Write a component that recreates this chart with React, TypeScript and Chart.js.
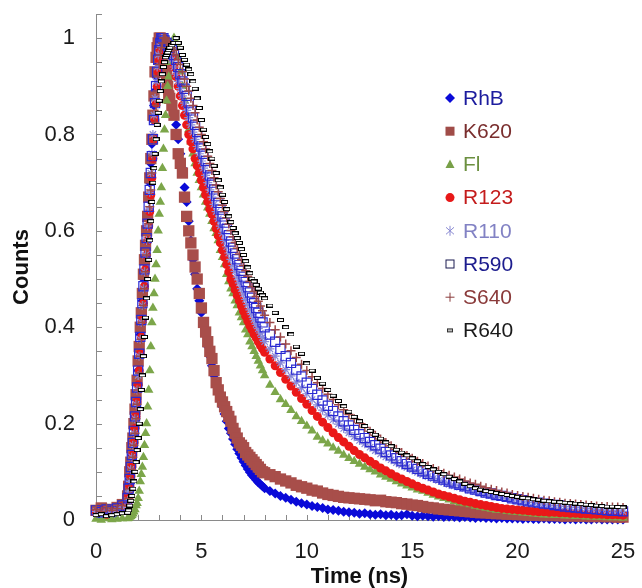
import React, { useEffect, useRef } from 'react';
import { Chart, registerables } from 'chart.js';

Chart.register(...registerables);

// ---------- data (time in ns, normalized counts) ----------
const TIME_NS = [
  0, 0.25, 0.5, 0.75, 1, 1.25,
  1.5, 1.55, 1.6, 1.65, 1.7, 1.75, 1.8, 1.85, 1.9, 1.95,
  2, 2.05, 2.1, 2.15, 2.2, 2.25, 2.3, 2.35, 2.4, 2.45,
  2.5, 2.55, 2.6, 2.65, 2.7, 2.75, 2.8, 2.85, 2.9, 2.95,
  3, 3.05, 3.1, 3.15, 3.2, 3.25, 3.3, 3.35, 3.4, 3.45,
  3.5, 3.6, 3.7, 3.8, 3.9, 4, 4.1, 4.2, 4.3, 4.4,
  4.5, 4.6, 4.7, 4.8, 4.9, 5, 5.1, 5.2, 5.3, 5.4,
  5.5, 5.6, 5.7, 5.8, 5.9, 6, 6.1, 6.2, 6.3, 6.4,
  6.5, 6.6, 6.7, 6.8, 6.9, 7, 7.1, 7.2, 7.3, 7.4,
  7.5, 7.6, 7.7, 7.8, 7.9,
  8, 8.25, 8.5, 8.75, 9, 9.25, 9.5, 9.75, 10, 10.25,
  10.5, 10.75, 11, 11.25, 11.5, 11.75, 12, 12.25, 12.5, 12.75,
  13, 13.25, 13.5, 13.75, 14, 14.25, 14.5, 14.75, 15, 15.25,
  15.5, 15.75, 16, 16.25, 16.5, 16.75, 17, 17.25, 17.5, 17.75,
  18, 18.25, 18.5, 18.75, 19, 19.25, 19.5, 19.75, 20, 20.25,
  20.5, 20.75, 21, 21.25, 21.5, 21.75, 22, 22.25, 22.5, 22.75,
  23, 23.25, 23.5, 23.75, 24, 24.25, 24.5, 24.75, 25,
];

const RHB = [
  0.012, 0.008, 0.014, 0.01, 0.016, 0.022,
  0.04, 0.06, 0.085, 0.11, 0.135, 0.16, 0.19, 0.215, 0.25, 0.28,
  0.31, 0.35, 0.385, 0.42, 0.455, 0.5, 0.535, 0.565, 0.6, 0.63,
  0.665, 0.7, 0.74, 0.78, 0.83, 0.86, 0.89, 0.92, 0.95, 0.97,
  0.99, 1, 1, 0.99, 0.97, 0.95, 0.93, 0.91, 0.9, 0.89,
  0.88, 0.86, 0.84, 0.82, 0.79, 0.76, 0.73, 0.69, 0.66, 0.62,
  0.58, 0.54, 0.51, 0.48, 0.455, 0.43, 0.405, 0.385, 0.36, 0.34,
  0.32, 0.3, 0.285, 0.265, 0.25, 0.235, 0.22, 0.205, 0.19, 0.18,
  0.168, 0.157, 0.147, 0.138, 0.129, 0.121, 0.113, 0.106, 0.099, 0.093,
  0.088, 0.083, 0.078, 0.074, 0.07,
  0.066, 0.06, 0.055, 0.05, 0.046, 0.042, 0.038, 0.035, 0.032, 0.029,
  0.027, 0.025, 0.022, 0.021, 0.019, 0.017, 0.016, 0.015, 0.013, 0.014,
  0.012, 0.011, 0.012, 0.01, 0.011, 0.009, 0.01, 0.012, 0.009, 0.008,
  0.009, 0.008, 0.007, 0.008, 0.006, 0.007, 0.006, 0.005, 0.006, 0.005,
  0.004, 0.005, 0.004, 0.004, 0.003, 0.004, 0.003, 0.003, 0.003, 0.002,
  0.003, 0.002, 0.002, 0.003, 0.002, 0.002, 0.002, 0.001, 0.002, 0.001,
  0.002, 0.001, 0.001, 0.002, 0.001, 0.001, 0.001, 0.001, 0.001,
];

const K620 = [
  0.02, 0.025, 0.018, 0.022, 0.026, 0.032,
  0.05, 0.07, 0.1, 0.12, 0.15, 0.17, 0.2, 0.23, 0.26, 0.29,
  0.33, 0.36, 0.4, 0.43, 0.47, 0.51, 0.54, 0.57, 0.6, 0.63,
  0.67, 0.71, 0.75, 0.79, 0.84, 0.88, 0.93, 0.96, 0.98, 0.99,
  1, 1, 0.99, 0.98, 0.97, 0.96, 0.94, 0.92, 0.9, 0.88,
  0.875, 0.86, 0.84, 0.8, 0.76, 0.74, 0.72, 0.67, 0.63, 0.6,
  0.575, 0.55, 0.525, 0.5, 0.47, 0.44, 0.41, 0.39, 0.37, 0.35,
  0.335, 0.31, 0.285, 0.27, 0.255, 0.245, 0.235, 0.225, 0.215, 0.205,
  0.19, 0.18, 0.17, 0.16, 0.155, 0.15, 0.14, 0.135, 0.13, 0.125,
  0.12, 0.115, 0.11, 0.105, 0.1,
  0.098, 0.094, 0.09, 0.085, 0.081, 0.077, 0.072, 0.069, 0.066, 0.062,
  0.06, 0.056, 0.053, 0.051, 0.049, 0.047, 0.046, 0.045, 0.044, 0.043,
  0.042, 0.04, 0.041, 0.038, 0.037, 0.036, 0.034, 0.033, 0.031, 0.03,
  0.028, 0.026, 0.025, 0.023, 0.022, 0.021, 0.02, 0.019, 0.018, 0.017,
  0.016, 0.015, 0.015, 0.014, 0.013, 0.013, 0.012, 0.012, 0.011, 0.011,
  0.01, 0.01, 0.01, 0.009, 0.01, 0.009, 0.009, 0.008, 0.009, 0.008,
  0.008, 0.008, 0.007, 0.008, 0.007, 0.007, 0.007, 0.006, 0.006,
];

const FL = [
  0.002, 0, 0.003, 0.001, 0.002, 0.003,
  0.003, 0.004, 0.006, 0.008, 0.01, 0.013, 0.017, 0.022, 0.03, 0.035,
  0.045, 0.06, 0.08, 0.095, 0.11, 0.13, 0.155, 0.18, 0.2, 0.235,
  0.27, 0.31, 0.36, 0.41, 0.44, 0.47, 0.5, 0.53, 0.56, 0.6,
  0.635, 0.66, 0.69, 0.73, 0.77, 0.81, 0.84, 0.87, 0.9, 0.92,
  0.95, 0.98, 1, 0.99, 0.96, 0.93, 0.9, 0.87, 0.84, 0.81,
  0.785, 0.76, 0.74, 0.72, 0.705, 0.69, 0.675, 0.66, 0.648, 0.635,
  0.62, 0.605, 0.595, 0.58, 0.56, 0.545, 0.53, 0.51, 0.495, 0.48,
  0.47, 0.455, 0.445, 0.43, 0.42, 0.41, 0.395, 0.385, 0.37, 0.36,
  0.35, 0.34, 0.33, 0.32, 0.31,
  0.3, 0.28, 0.265, 0.25, 0.24, 0.228, 0.215, 0.205, 0.195, 0.185,
  0.172, 0.165, 0.158, 0.15, 0.143, 0.135, 0.128, 0.122, 0.116, 0.11,
  0.105, 0.1, 0.094, 0.089, 0.085, 0.08, 0.075, 0.071, 0.067, 0.063,
  0.06, 0.056, 0.052, 0.048, 0.045, 0.042, 0.039, 0.036, 0.034, 0.032,
  0.029, 0.027, 0.025, 0.023, 0.021, 0.02, 0.018, 0.017, 0.016, 0.015,
  0.014, 0.013, 0.012, 0.011, 0.011, 0.01, 0.01, 0.009, 0.009, 0.008,
  0.008, 0.007, 0.007, 0.006, 0.006, 0.005, 0.005, 0.005, 0.004,
];

const R123 = [
  0.015, 0.02, 0.012, 0.018, 0.02, 0.028,
  0.035, 0.05, 0.07, 0.09, 0.11, 0.135, 0.16, 0.19, 0.215, 0.245,
  0.28, 0.31, 0.345, 0.38, 0.415, 0.45, 0.485, 0.52, 0.55, 0.58,
  0.61, 0.64, 0.675, 0.71, 0.75, 0.79, 0.83, 0.865, 0.9, 0.93,
  0.955, 0.975, 0.99, 1, 1, 0.995, 0.99, 0.985, 0.98, 0.975,
  0.97, 0.96, 0.94, 0.92, 0.9, 0.88, 0.86, 0.84, 0.82, 0.8,
  0.785, 0.77, 0.75, 0.735, 0.72, 0.705, 0.69, 0.675, 0.66, 0.645,
  0.635, 0.62, 0.605, 0.59, 0.575, 0.56, 0.545, 0.53, 0.515, 0.5,
  0.49, 0.478, 0.466, 0.455, 0.444, 0.433, 0.423, 0.413, 0.403, 0.395,
  0.386, 0.378, 0.37, 0.362, 0.355,
  0.348, 0.334, 0.32, 0.306, 0.292, 0.278, 0.265, 0.252, 0.24, 0.227,
  0.215, 0.203, 0.192, 0.181, 0.171, 0.162, 0.153, 0.144, 0.136, 0.129,
  0.122, 0.115, 0.108, 0.102, 0.096, 0.09, 0.085, 0.08, 0.075, 0.07,
  0.066, 0.062, 0.058, 0.054, 0.051, 0.048, 0.045, 0.042, 0.039, 0.037,
  0.034, 0.032, 0.03, 0.028, 0.026, 0.024, 0.023, 0.022, 0.021, 0.02,
  0.019, 0.018, 0.017, 0.017, 0.016, 0.016, 0.015, 0.015, 0.014, 0.014,
  0.013, 0.013, 0.012, 0.012, 0.012, 0.011, 0.011, 0.011, 0.01,
];

const R110 = [
  0.018, 0.014, 0.02, 0.016, 0.022, 0.026,
  0.04, 0.06, 0.08, 0.105, 0.13, 0.155, 0.18, 0.21, 0.24, 0.27,
  0.3, 0.34, 0.375, 0.41, 0.445, 0.48, 0.515, 0.55, 0.58, 0.61,
  0.645, 0.68, 0.72, 0.76, 0.8, 0.84, 0.875, 0.91, 0.94, 0.965,
  0.985, 0.995, 1, 1, 0.995, 0.99, 0.985, 0.98, 0.975, 0.97,
  0.965, 0.955, 0.94, 0.925, 0.91, 0.895, 0.88, 0.865, 0.85, 0.835,
  0.82, 0.805, 0.79, 0.775, 0.76, 0.745, 0.73, 0.715, 0.7, 0.685,
  0.67, 0.655, 0.64, 0.625, 0.61, 0.595, 0.58, 0.567, 0.554, 0.541,
  0.528, 0.516, 0.504, 0.492, 0.48, 0.469, 0.458, 0.447, 0.436, 0.426,
  0.416, 0.406, 0.397, 0.388, 0.379,
  0.37, 0.355, 0.34, 0.326, 0.312, 0.299, 0.286, 0.274, 0.262, 0.25,
  0.239, 0.228, 0.218, 0.208, 0.199, 0.19, 0.181, 0.173, 0.165, 0.158,
  0.151, 0.144, 0.137, 0.131, 0.125, 0.119, 0.114, 0.109, 0.104, 0.099,
  0.094, 0.09, 0.086, 0.082, 0.078, 0.074, 0.071, 0.068, 0.065, 0.062,
  0.059, 0.056, 0.053, 0.051, 0.049, 0.047, 0.045, 0.043, 0.041, 0.039,
  0.037, 0.036, 0.034, 0.033, 0.031, 0.03, 0.029, 0.028, 0.027, 0.026,
  0.025, 0.024, 0.023, 0.022, 0.021, 0.02, 0.02, 0.019, 0.018,
];

const R590 = [
  0.02, 0.016, 0.022, 0.018, 0.024, 0.03,
  0.045, 0.065, 0.085, 0.11, 0.135, 0.16, 0.185, 0.215, 0.245, 0.275,
  0.31, 0.345, 0.38, 0.415, 0.45, 0.485, 0.52, 0.555, 0.585, 0.615,
  0.65, 0.685, 0.72, 0.755, 0.79, 0.83, 0.865, 0.9, 0.93, 0.955,
  0.975, 0.99, 1, 1, 1, 0.995, 0.99, 0.99, 0.985, 0.985,
  0.98, 0.975, 0.965, 0.955, 0.94, 0.925, 0.91, 0.895, 0.88, 0.865,
  0.85, 0.835, 0.82, 0.805, 0.79, 0.775, 0.76, 0.745, 0.73, 0.715,
  0.7, 0.686, 0.672, 0.658, 0.644, 0.63, 0.617, 0.604, 0.591, 0.578,
  0.565, 0.553, 0.541, 0.529, 0.517, 0.505, 0.494, 0.483, 0.472, 0.461,
  0.45, 0.44, 0.43, 0.42, 0.41,
  0.4, 0.385, 0.37, 0.355, 0.34, 0.326, 0.312, 0.298, 0.285, 0.272,
  0.26, 0.248, 0.237, 0.226, 0.215, 0.205, 0.196, 0.187, 0.178, 0.17,
  0.162, 0.155, 0.148, 0.141, 0.134, 0.128, 0.122, 0.116, 0.111, 0.106,
  0.101, 0.096, 0.092, 0.088, 0.084, 0.08, 0.076, 0.073, 0.07, 0.066,
  0.063, 0.06, 0.057, 0.055, 0.052, 0.05, 0.048, 0.045, 0.043, 0.041,
  0.039, 0.037, 0.036, 0.034, 0.033, 0.031, 0.03, 0.028, 0.027, 0.026,
  0.025, 0.024, 0.023, 0.022, 0.021, 0.02, 0.019, 0.019, 0.018,
];

const S640 = [
  0.022, 0.018, 0.025, 0.02, 0.024, 0.03,
  0.03, 0.045, 0.065, 0.085, 0.105, 0.13, 0.155, 0.18, 0.21, 0.24,
  0.27, 0.305, 0.34, 0.375, 0.41, 0.445, 0.48, 0.515, 0.55, 0.58,
  0.615, 0.65, 0.685, 0.72, 0.755, 0.79, 0.825, 0.86, 0.89, 0.92,
  0.945, 0.965, 0.98, 0.99, 1, 1, 1, 0.995, 0.99, 0.99,
  0.985, 0.98, 0.975, 0.965, 0.955, 0.945, 0.93, 0.915, 0.9, 0.89,
  0.875, 0.86, 0.845, 0.83, 0.815, 0.8, 0.785, 0.77, 0.755, 0.74,
  0.725, 0.71, 0.695, 0.681, 0.667, 0.653, 0.64, 0.627, 0.614, 0.601,
  0.588, 0.576, 0.564, 0.552, 0.54, 0.528, 0.517, 0.506, 0.495, 0.484,
  0.474, 0.464, 0.454, 0.444, 0.434,
  0.425, 0.41, 0.395, 0.38, 0.365, 0.351, 0.337, 0.323, 0.31, 0.297,
  0.285, 0.273, 0.261, 0.25, 0.239, 0.229, 0.219, 0.21, 0.201, 0.192,
  0.184, 0.176, 0.168, 0.161, 0.154, 0.147, 0.14, 0.134, 0.128, 0.122,
  0.117, 0.112, 0.107, 0.102, 0.097, 0.093, 0.089, 0.085, 0.081, 0.077,
  0.074, 0.07, 0.067, 0.064, 0.061, 0.058, 0.056, 0.053, 0.051, 0.049,
  0.047, 0.045, 0.043, 0.041, 0.04, 0.038, 0.037, 0.035, 0.034, 0.033,
  0.032, 0.031, 0.03, 0.029, 0.028, 0.028, 0.027, 0.027, 0.026,
];

const R640 = [
  0.01, 0.012, 0.008, 0.01, 0.012, 0.014,
  0.015, 0.02, 0.03, 0.04, 0.05, 0.065, 0.08, 0.1, 0.12, 0.145,
  0.17, 0.2, 0.23, 0.27, 0.3, 0.34, 0.38, 0.42, 0.46, 0.5,
  0.54, 0.58, 0.62, 0.66, 0.7, 0.73, 0.76, 0.79, 0.82, 0.845,
  0.87, 0.89, 0.91, 0.925, 0.94, 0.95, 0.96, 0.965, 0.97, 0.975,
  0.98, 0.985, 0.99, 1, 0.99, 0.98, 0.965, 0.955, 0.945, 0.935,
  0.925, 0.91, 0.895, 0.875, 0.855, 0.83, 0.81, 0.795, 0.78, 0.765,
  0.75, 0.735, 0.72, 0.705, 0.69, 0.675, 0.66, 0.645, 0.63, 0.618,
  0.606, 0.595, 0.585, 0.575, 0.562, 0.55, 0.537, 0.524, 0.512, 0.501,
  0.495, 0.488, 0.48, 0.472, 0.466,
  0.46, 0.445, 0.43, 0.415, 0.4, 0.385, 0.36, 0.345, 0.325, 0.31,
  0.295, 0.283, 0.27, 0.258, 0.247, 0.236, 0.225, 0.214, 0.205, 0.195,
  0.185, 0.177, 0.169, 0.161, 0.153, 0.146, 0.14, 0.134, 0.128, 0.122,
  0.116, 0.11, 0.105, 0.1, 0.095, 0.09, 0.085, 0.08, 0.075, 0.07,
  0.066, 0.063, 0.06, 0.058, 0.056, 0.054, 0.052, 0.05, 0.048, 0.046,
  0.045, 0.043, 0.042, 0.04, 0.039, 0.038, 0.037, 0.036, 0.035, 0.034,
  0.033, 0.032, 0.031, 0.03, 0.029, 0.028, 0.028, 0.027, 0.026,
];

const SERIES_NAMES = ['RhB', 'K620', 'Fl', 'R123', 'R110', 'R590', 'S640', 'R640'];
const SERIES_VALUES = [RHB, K620, FL, R123, R110, R590, S640, R640];
const LEGEND_TEXT_COLORS = ['#1c1c9e', '#7a2e2e', '#6c9040', '#c41c1c', '#8282c4', '#1c1c8e', '#8a3a3a', '#1a1a1a'];

const X_MIN = 0, X_MAX = 25, X_STEP = 1, X_LABEL_EVERY = 5;
const Y_MIN = 0, Y_MAX = 1.05, Y_STEP = 0.05, Y_LABEL_EVERY = 0.2;

const FONT = '"Liberation Sans", Arial, Helvetica, sans-serif';

function makeDashImage(): HTMLCanvasElement {
  const c = document.createElement('canvas');
  c.width = 7;
  c.height = 4;
  const g = c.getContext('2d')!;
  g.fillStyle = '#000';
  g.fillRect(0, 0, 7, 4);
  g.fillStyle = '#fff';
  g.fillRect(1, 1, 5, 2);
  return c;
}

function drawLegendMarker(ctx: CanvasRenderingContext2D, i: number, x: number, y: number) {
  ctx.save();
  ctx.lineWidth = 1;
  switch (i) {
    case 0:
      ctx.fillStyle = '#0a0ad8';
      ctx.beginPath();
      ctx.moveTo(x, y - 5); ctx.lineTo(x + 5, y); ctx.lineTo(x, y + 5); ctx.lineTo(x - 5, y);
      ctx.closePath(); ctx.fill();
      break;
    case 1:
      ctx.fillStyle = '#a04c48';
      ctx.fillRect(x - 4.5, y - 4.5, 9, 9);
      break;
    case 2:
      ctx.fillStyle = '#78a048';
      ctx.beginPath();
      ctx.moveTo(x, y - 5); ctx.lineTo(x + 4.5, y + 3.5); ctx.lineTo(x - 4.5, y + 3.5);
      ctx.closePath(); ctx.fill();
      break;
    case 3:
      ctx.fillStyle = '#e81818';
      ctx.beginPath(); ctx.arc(x, y, 4.5, 0, Math.PI * 2); ctx.fill();
      break;
    case 4:
      ctx.strokeStyle = '#8a8ad2';
      ctx.beginPath();
      ctx.moveTo(x, y - 5); ctx.lineTo(x, y + 5);
      ctx.moveTo(x - 4, y - 3.5); ctx.lineTo(x + 4, y + 3.5);
      ctx.moveTo(x + 4, y - 3.5); ctx.lineTo(x - 4, y + 3.5);
      ctx.stroke();
      break;
    case 5:
      ctx.strokeStyle = '#1a1a50';
      ctx.strokeRect(x - 4, y - 4, 8, 8);
      break;
    case 6:
      ctx.strokeStyle = '#8a3a3a';
      ctx.beginPath();
      ctx.moveTo(x - 4.5, y); ctx.lineTo(x + 4.5, y);
      ctx.moveTo(x, y - 4.5); ctx.lineTo(x, y + 4.5);
      ctx.stroke();
      break;
    default:
      ctx.fillStyle = '#333';
      ctx.fillRect(x - 3, y - 2, 6, 4);
      ctx.fillStyle = '#bbb';
      ctx.fillRect(x - 2, y - 1, 4, 2);
  }
  ctx.restore();
}

const inwardTicks = {
  id: 'inwardTicks',
  beforeDatasetsDraw(chart: any) {
    const { ctx, chartArea, scales } = chart;
    const x = scales.x, y = scales.y;
    ctx.save();
    ctx.strokeStyle = '#8a8a8a';
    ctx.lineWidth = 1;
    ctx.beginPath();
    for (const t of x.ticks) {
      const px = Math.round(x.getPixelForValue(t.value)) + 0.5;
      ctx.moveTo(px, chartArea.bottom);
      ctx.lineTo(px, chartArea.bottom - 5);
    }
    for (const t of y.ticks) {
      const py = Math.round(y.getPixelForValue(t.value)) + 0.5;
      ctx.moveTo(chartArea.left, py);
      ctx.lineTo(chartArea.left + 6, py);
    }
    ctx.stroke();
    ctx.restore();
  },
};

const customLegend = {
  id: 'customLegend',
  afterDraw(chart: any) {
    const { ctx, chartArea } = chart;
    const x0 = chartArea.left + 354;
    const y0 = chartArea.top + 84;
    const gap = 33.2;
    ctx.save();
    ctx.font = '21px ' + FONT;
    ctx.textBaseline = 'middle';
    ctx.textAlign = 'left';
    SERIES_NAMES.forEach((name, i) => {
      const yy = y0 + i * gap;
      drawLegendMarker(ctx, i, x0, yy);
      ctx.fillStyle = LEGEND_TEXT_COLORS[i];
      ctx.fillText(name, x0 + 13, yy + 1);
    });
    ctx.restore();
  },
};

export default function App() {
  const ref = useRef<HTMLCanvasElement>(null);

  useEffect(() => {
    const canvas = ref.current;
    if (!canvas) return;
    const dash = makeDashImage();

    const styles: any[] = [
      { pointStyle: 'rectRot', pointRadius: 5, backgroundColor: '#0a0ad8', borderColor: '#0a0ad8', borderWidth: 0 },
      { pointStyle: 'rect', pointRadius: 8, backgroundColor: '#a84e4a', borderColor: '#a84e4a', borderWidth: 0 },
      { pointStyle: 'triangle', pointRadius: 5.5, backgroundColor: '#7ca64a', borderColor: '#7ca64a', borderWidth: 0 },
      { pointStyle: 'circle', pointRadius: 4.5, backgroundColor: '#ea1818', borderColor: '#ea1818', borderWidth: 0 },
      { pointStyle: 'star', pointRadius: 4.5, backgroundColor: 'rgba(0,0,0,0)', borderColor: '#8a8ad8', borderWidth: 1.2 },
      { pointStyle: 'rect', pointRadius: 6.5, backgroundColor: 'rgba(0,0,0,0)', borderColor: '#2a2ad2', borderWidth: 1.2 },
      { pointStyle: 'cross', pointRadius: 4.5, backgroundColor: 'rgba(0,0,0,0)', borderColor: '#9c4848', borderWidth: 1.5 },
      { pointStyle: dash, pointRadius: 4, backgroundColor: '#000', borderColor: '#000', borderWidth: 0 },
    ];

    const datasets = SERIES_NAMES.map((name, i) => ({
      label: name,
      data: TIME_NS.map((t, k) => ({ x: t, y: SERIES_VALUES[i][k] })).filter((p) => p.y !== undefined),
      showLine: false,
      clip: false as any,
      order: 20 - i,
      ...styles[i],
    }));

    const chart = new Chart(canvas, {
      type: 'scatter',
      data: { datasets },
      options: {
        responsive: false,
        animation: false,
        devicePixelRatio: 1,
        layout: { padding: { top: 14, right: 19, bottom: 0, left: 0 } },
        plugins: {
          legend: { display: false },
          tooltip: { enabled: false },
        },
        scales: {
          x: {
            type: 'linear',
            min: X_MIN,
            max: X_MAX,
            afterFit: (s: any) => {
              s.height = 68;
              s.paddingLeft = 0;
              s.paddingRight = 0;
              s.paddingTop = 0;
              s.paddingBottom = 0;
            },
            grid: { drawOnChartArea: false, drawTicks: false },
            border: { display: true, color: '#8a8a8a', width: 1 },
            ticks: {
              stepSize: X_STEP,
              autoSkip: false,
              maxRotation: 0,
              includeBounds: false,
              padding: 19,
              color: '#1a1a1a',
              font: { family: FONT, size: 22 },
              callback: (v: any) => (Number(v) % X_LABEL_EVERY === 0 ? String(v) : ''),
            },
            title: {
              display: true,
              text: 'Time (ns)',
              color: '#111',
              font: { family: FONT, size: 22, weight: 'bold', lineHeight: 1 },
              padding: { top: 0, bottom: 0 },
            },
          },
          y: {
            type: 'linear',
            min: Y_MIN,
            max: Y_MAX,
            afterFit: (s: any) => {
              s.width = 96;
              s.paddingLeft = 0;
              s.paddingRight = 0;
              s.paddingTop = 0;
              s.paddingBottom = 0;
            },
            grid: { drawOnChartArea: false, drawTicks: false },
            border: { display: true, color: '#8a8a8a', width: 1 },
            ticks: {
              stepSize: Y_STEP,
              autoSkip: false,
              includeBounds: false,
              padding: 21,
              color: '#1a1a1a',
              font: { family: FONT, size: 22 },
              callback: (v: any) => {
                const r = Math.round(Number(v) * 100) / 100;
                const q = r / Y_LABEL_EVERY;
                return Math.abs(q - Math.round(q)) < 1e-6 ? String(r) : '';
              },
            },
            title: {
              display: true,
              text: 'Counts',
              color: '#111',
              font: { family: FONT, size: 22, weight: 'bold', lineHeight: 1 },
              padding: { top: 11, bottom: 0 },
            },
          },
        },
      } as any,
      plugins: [inwardTicks, customLegend],
    });

    return () => chart.destroy();
  }, []);

  return (
    <div style={{ position: 'fixed', left: 0, top: 0, width: 642, height: 588, background: '#fff' }}>
      <canvas ref={ref} width={642} height={588} style={{ display: 'block', width: 642, height: 588 }} />
    </div>
  );
}
